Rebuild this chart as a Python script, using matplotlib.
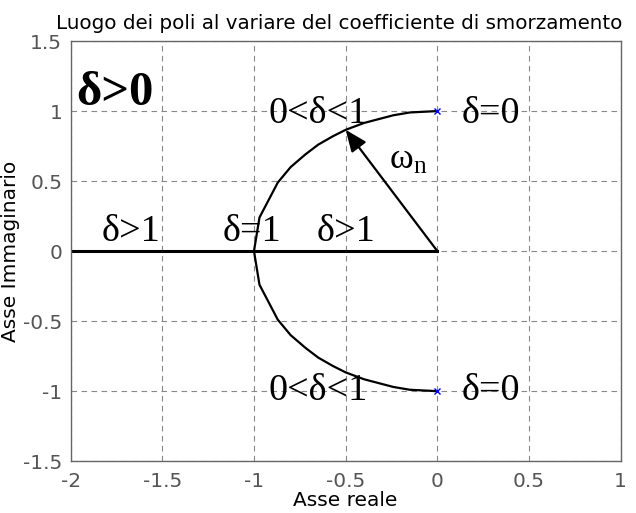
import matplotlib.pyplot as plt

plt.rcParams['mathtext.fontset'] = 'custom'
plt.rcParams['mathtext.rm'] = 'Liberation Serif'

# vertices of the pole locus (upper branch, from delta=0 to delta=1)
re_upper = [0.0, -0.15, -0.24, -0.40, -0.50, -0.57, -0.65, -0.72, -0.80, -0.87, -0.97, -1.0]
im_upper = [1.0, 0.99, 0.97, 0.915, 0.866, 0.82, 0.76, 0.69, 0.60, 0.49, 0.24, 0.0]
# lower branch (mirror)
re_lower = [0.0, -0.15, -0.24, -0.40, -0.50, -0.57, -0.65, -0.72, -0.80, -0.87, -0.97, -1.0]
im_lower = [-1.0, -0.99, -0.97, -0.915, -0.866, -0.82, -0.76, -0.69, -0.60, -0.49, -0.24, 0.0]
# real axis segment (delta > 1)
re_axis = [-2.0, 0.0]
im_axis = [0.0, 0.0]
# omega_n arrow tip
wn_tip = (-0.5, 0.866)
# poles for delta = 0
re_poles0 = [0.0, 0.0]
im_poles0 = [1.0, -1.0]

xticks = [-2, -1.5, -1, -0.5, 0, 0.5, 1]
yticks = [-1.5, -1, -0.5, 0, 0.5, 1, 1.5]

sans = ['DejaVu Sans']
serif = ['Liberation Serif', 'DejaVu Serif']

fig = plt.figure(figsize=(6.36, 5.13), dpi=100)
ax = fig.add_axes([0.111, 0.101, 0.865, 0.819])

ax.plot(re_upper, im_upper, color='black', lw=1.6)
ax.plot(re_lower, im_lower, color='black', lw=1.6)
ax.plot(re_axis, im_axis, color='black', lw=2.2)
ax.plot(re_poles0, im_poles0, 'x', color='blue', ms=4, mew=1)
ax.annotate('', xy=wn_tip, xytext=(0, 0),
            arrowprops=dict(arrowstyle='-|>,head_length=0.6,head_width=0.25', color='black', lw=1.6,
                            mutation_scale=22, shrinkA=0, shrinkB=0))

ax.set_xlim(-2, 1)
ax.set_ylim(-1.5, 1.5)
ax.set_xticks(xticks)
ax.set_yticks(yticks)
ax.set_xticklabels([f'{v:g}' for v in xticks], family=sans, fontsize=14.5, color='#555555')
ax.set_yticklabels([f'{v:g}' for v in yticks], family=sans, fontsize=14.5, color='#555555')
ax.tick_params(axis='x', length=0, pad=8)
ax.tick_params(axis='y', length=0, pad=6)
ax.grid(True, linestyle=(0, (5, 4)), color='#888888', lw=0.8)
for s in ax.spines.values():
    s.set_color('#666666')
    s.set_linewidth(1.0)

ax.set_title('Luogo dei poli al variare del coefficiente di smorzamento',
             family=sans, fontsize=14.3, pad=9, x=0.489)
ax.set_xlabel('Asse reale', family=sans, fontsize=14.5, labelpad=0)
ax.set_ylabel('Asse Immaginario', family=sans, fontsize=14.5, labelpad=2)

fs = 27.5
ax.text(-1.97, 1.13, 'δ>0', family=serif, fontsize=35, fontweight='bold', va='center')
ax.text(-0.92, 0.98, '0<δ<1', family=serif, fontsize=fs, va='center')
ax.text(0.13, 0.98, 'δ=0', family=serif, fontsize=fs, va='center')
ax.text(-0.92, -1.0, '0<δ<1', family=serif, fontsize=fs, va='center')
ax.text(0.13, -1.0, 'δ=0', family=serif, fontsize=fs, va='center')
ax.text(-1.83, 0.14, 'δ>1', family=serif, fontsize=fs, va='center')
ax.text(-1.17, 0.14, 'δ=1', family=serif, fontsize=fs, va='center')
ax.text(-0.66, 0.14, 'δ>1', family=serif, fontsize=fs, va='center')
ax.text(-0.265, 0.59, r'$\mathregular{ω_n}$', family=serif, fontsize=26, va='baseline')

fig.savefig('out.png', dpi=100)
